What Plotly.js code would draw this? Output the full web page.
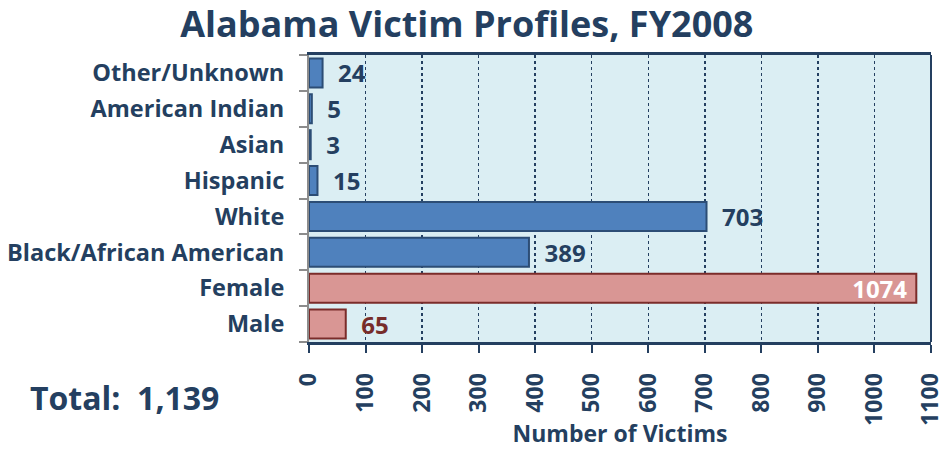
<!DOCTYPE html>
<html>
<head>
<meta charset="utf-8">
<script src="https://cdn.plot.ly/plotly-3.0.1.min.js"></script>
<style>html,body{margin:0;padding:0;background:#fff;}#chart{width:945px;height:451px;}</style>
</head>
<body>
<div id="chart"></div>
<script>
var categories = ["Male", "Female", "Black/African American", "White", "Hispanic", "Asian", "American Indian", "Other/Unknown"];
var victims = [65, 1074, 389, 703, 15, 3, 5, 24];
var group = ["gender", "gender", "race", "race", "race", "race", "race", "race"];
var xTicks = [0, 100, 200, 300, 400, 500, 600, 700, 800, 900, 1000, 1100];
var totalLabel = "Total:  1,139";

var navy = "#243F60";
var font = "'Open Sans', sans-serif";

var fill = group.map(function (g) { return g === "gender" ? "#D99694" : "#4F81BD"; });
var edge = group.map(function (g) { return g === "gender" ? "#7B2C2A" : "#2C4D75"; });
var txtColor = victims.map(function (v, i) {
  if (v > 1000) return "#FFFFFF";
  return group[i] === "gender" ? "#772C2A" : navy;
});
var txtPos = victims.map(function (v) { return v > 1000 ? "inside" : "outside"; });
var txt = victims.map(function (v) { return v > 1000 ? String(v) + " " : "  " + String(v); });

var trace = {
  type: "bar",
  orientation: "h",
  y: categories,
  x: victims,
  text: txt,
  textposition: txtPos,
  insidetextanchor: "end",
  constraintext: "none",
  textfont: { family: font, size: 24, color: txtColor, weight: "bold" },
  cliponaxis: false,
  marker: { color: fill, line: { color: edge, width: 2 } },
  hoverinfo: "none"
};

var layout = {
  width: 945, height: 451,
  margin: { l: 309, r: 14, t: 55, b: 109 },
  paper_bgcolor: "#FFFFFF",
  plot_bgcolor: "#DBEEF3",
  bargap: 0.19,
  showlegend: false,
  font: { family: font, color: navy, weight: "bold" },
  title: {
    text: "<b>Alabama Victim Profiles, FY2008</b>",
    font: { family: font, size: 36, color: navy },
    x: 0.494, xanchor: "center",
    y: 0.945, yref: "container", yanchor: "middle"
  },
  xaxis: {
    range: [0, 1100],
    tickvals: xTicks,
    ticktext: xTicks.map(String),
    tickangle: -90,
    tickfont: { family: font, size: 23, color: navy, weight: "bold" },
    ticks: "outside", ticklen: 8, tickwidth: 2, tickcolor: navy,
    ticklabelstandoff: 11,
    ticklabeloverflow: "allow",
    showline: true, linecolor: navy, linewidth: 3, mirror: true,
    showgrid: true, gridcolor: navy, gridwidth: 1.5, griddash: "dot",
    zeroline: false,
    fixedrange: true,
    title: { text: "<b>Number of Victims</b>", font: { family: font, size: 23, color: navy }, standoff: 2 }
  },
  yaxis: {
    type: "category",
    categoryorder: "array",
    categoryarray: categories,
    tickfont: { family: font, size: 23.5, color: navy, weight: "bold" },
    ticks: "outside", ticklen: 8, tickwidth: 2, tickcolor: "#8C8C8C",
    tickson: "boundaries",
    showline: true, linecolor: "#8C8C8C", linewidth: 2,
    showgrid: false, zeroline: false,
    fixedrange: true,
    ticklabelstandoff: 18
  },
  shapes: [
    { type: "line", xref: "paper", yref: "paper", x0: 1, x1: 1, y0: 0, y1: 1, line: { color: navy, width: 2 } }
  ],
  annotations: [
    {
      text: "<b>" + totalLabel + "</b>",
      xref: "paper", yref: "paper",
      x: -0.452, y: -0.195, xanchor: "left", yanchor: "middle",
      showarrow: false,
      font: { family: font, size: 32, color: navy }
    }
  ]
};

Plotly.newPlot("chart", [trace], layout, { displayModeBar: false, staticPlot: true });
</script>
</body>
</html>
